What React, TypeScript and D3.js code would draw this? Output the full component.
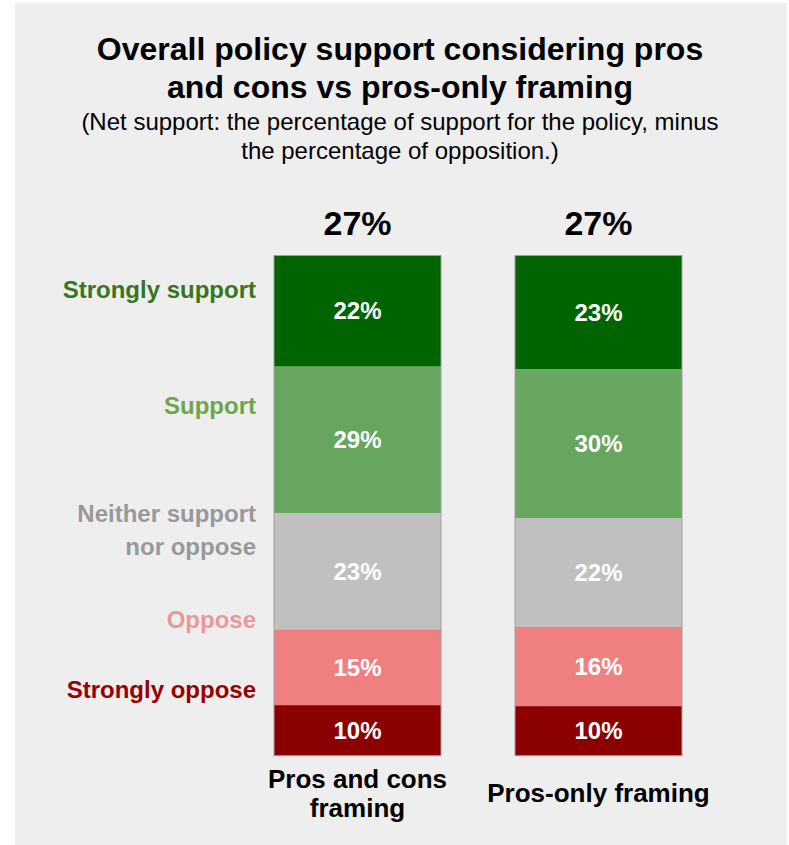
import React from "react";
import * as d3 from "d3";

const categories = ["Pros and cons framing", "Pros-only framing"];
const categoryLines = [["Pros and cons", "framing"], ["Pros-only framing"]];
const netSupport = ["27%", "27%"];
const levels = ["Strongly support", "Support", "Neither support nor oppose", "Oppose", "Strongly oppose"];
const levelLines = [["Strongly support"], ["Support"], ["Neither support", "nor oppose"], ["Oppose"], ["Strongly oppose"]];
const prosAndCons = [22, 29, 23, 15, 10];
const prosOnly = [23, 30, 22, 16, 10];
const seriesValues = [prosAndCons, prosOnly];

const barColors = ["#006400", "#66a65f", "#c0c0c0", "#f08080", "#8b0000"];
const labelColors = ["#38761d", "#6aa84f", "#999999", "#ea9999", "#990000"];
const labelBaselines = [298, 414, 522, 628, 698];

const W = 789;
const H = 845;
const FONT = "'Liberation Sans', Arial, Helvetica, sans-serif";

export default function App() {
  const x = d3.scaleBand<string>().domain(categories).range([274, 682]).paddingInner(0.307).paddingOuter(0);
  const y = d3.scaleLinear().domain([0, 1]).range([255.5, 755.7]);

  const stacks = seriesValues.map((vals) => {
    const total = d3.sum(vals);
    let cum = 0;
    return vals.map((v, i) => {
      const s = { i, v, y0: cum / total, y1: (cum + v) / total };
      cum += v;
      return s;
    });
  });

  return (
    <svg width={W} height={H} style={{ position: "absolute", left: 0, top: 0 }} fontFamily={FONT}>
      <rect x={0} y={0} width={W} height={H} fill="#ffffff" />
      <rect x={15} y={3} width={772} height={H} fill="#eeeeee" />
      <text textAnchor="middle" fontWeight="bold" fontSize={32} fill="#000">
        <tspan x={400} y={60}>Overall policy support considering pros</tspan>
        <tspan x={400} y={98}>and cons vs pros-only framing</tspan>
      </text>
      <text textAnchor="middle" fontSize={24} fill="#000">
        <tspan x={400} y={130}>(Net support: the percentage of support for the policy, minus</tspan>
        <tspan x={400} y={159}>the percentage of opposition.)</tspan>
      </text>

      {levelLines.map((lines, i) => (
        <text key={levels[i]} textAnchor="end" fontWeight="bold" fontSize={24} fill={labelColors[i]}>
          {lines.map((ln, j) => (
            <tspan key={j} x={256} y={labelBaselines[i] + (j - (lines.length - 1)) * 33 + (lines.length > 1 ? 33 : 0)}>
              {ln}
            </tspan>
          ))}
        </text>
      ))}

      {categories.map((c, ci) => {
        const bx = x(c)!;
        const bw = x.bandwidth();
        const cx = bx + bw / 2;
        return (
          <g key={c}>
            <text x={cx} y={235} textAnchor="middle" fontWeight="bold" fontSize={34} fill="#000">
              {netSupport[ci]}
            </text>
            {stacks[ci].map((s) => (
              <rect key={s.i} x={bx} y={y(s.y0)} width={bw} height={y(s.y1) - y(s.y0)} fill={barColors[s.i]} />
            ))}
            <rect x={bx} y={y(0)} width={bw} height={y(1) - y(0)} fill="none" stroke="#a0a0a0" strokeWidth={1} />
            {stacks[ci].map((s) => (
              <text
                key={"t" + s.i}
                x={cx}
                y={(y(s.y0) + y(s.y1)) / 2}
                dy="0.35em"
                textAnchor="middle"
                fontWeight="bold"
                fontSize={24}
                fill="#ffffff"
              >
                {s.v}%
              </text>
            ))}
            <text textAnchor="middle" fontWeight="bold" fontSize={26} fill="#000">
              {categoryLines[ci].map((ln, j) => (
                <tspan key={j} x={cx} y={categoryLines[ci].length > 1 ? 788 + j * 29 : 802}>
                  {ln}
                </tspan>
              ))}
            </text>
          </g>
        );
      })}
    </svg>
  );
}
